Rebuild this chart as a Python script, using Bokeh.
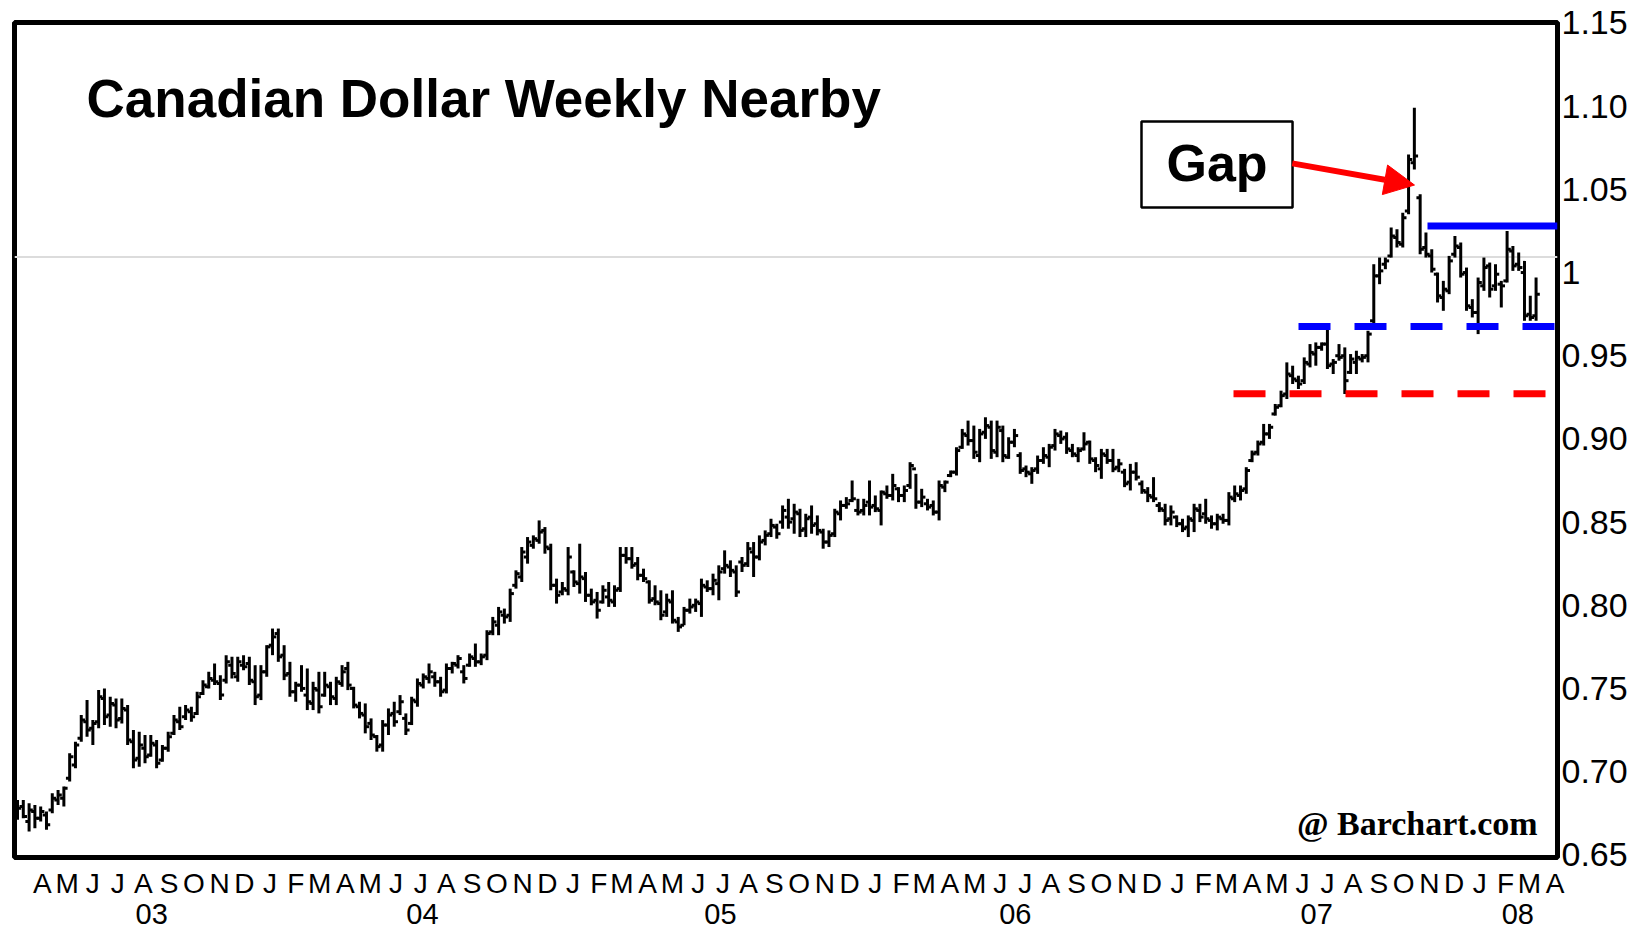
import pandas as pd
from bokeh.plotting import figure
from bokeh.models import LinearAxis, FixedTicker, Range1d, Span, Arrow, NormalHead, Label
from bokeh.embed import file_html
from bokeh.resources import INLINE

# ---------------- data (weekly OHLC, Canadian dollar nearby futures) ----------------
FIRST_WEEK = "2003-03-10"

high = [
    .683, .683, .681, .680, .679, .676, .687, .689, .691, .711,
    .718, .734, .743, .731, .749, .750, .745, .744, .744, .740,
    .725, .724, .722, .722, .719, .716, .724, .734, .739, .740,
    .739, .748, .755, .760, .765, .758, .770, .769, .769, .770,
    .769, .764, .764, .776, .786, .786, .776, .766, .754, .764,
    .762, .754, .760, .760, .754, .757, .764, .766, .751, .742,
    .741, .732, .722, .731, .738, .742, .746, .735, .745, .756,
    .759, .765, .760, .757, .765, .766, .770, .764, .771, .777,
    .771, .785, .793, .799, .798, .810, .821, .835, .841, .842,
    .851, .847, .837, .816, .814, .835, .821, .837, .820, .810,
    .808, .812, .814, .812, .835, .835, .835, .829, .822, .815,
    .812, .809, .807, .809, .793, .799, .804, .804, .816, .815,
    .819, .824, .833, .827, .824, .829, .838, .838, .842, .845,
    .852, .849, .860, .864, .861, .858, .855, .860, .854, .846,
    .845, .858, .863, .865, .875, .864, .864, .875, .866, .869,
    .872, .879, .871, .872, .886, .879, .870, .864, .863, .875,
    .875, .881, .895, .906, .911, .908, .906, .913, .911, .911,
    .908, .901, .906, .892, .884, .883, .890, .895, .897, .906,
    .905, .904, .897, .895, .904, .899, .889, .894, .894, .894,
    .888, .882, .885, .886, .875, .871, .877, .862, .861, .860,
    .854, .852, .854, .861, .861, .864, .854, .855, .855, .868,
    .872, .872, .883, .893, .899, .909, .909, .921, .929, .946,
    .944, .938, .949, .957, .958, .958, .967, .948, .957, .955,
    .951, .953, .951, .965, 1.005, 1.009, 1.009, 1.027, 1.026, 1.036,
    1.071, 1.099, 1.047, 1.024, 1.014, 1.000, .995, 1.010, 1.022, 1.018,
    1.003, .984, .997, 1.009, 1.006, 1.005, .995, 1.025, 1.016, 1.012,
    1.007, .986, .997,
]

low = [
    .671, .672, .664, .666, .670, .665, .675, .680, .679, .694,
    .702, .718, .721, .716, .726, .728, .727, .726, .729, .716,
    .702, .703, .705, .709, .702, .706, .712, .722, .725, .731,
    .730, .734, .746, .750, .752, .743, .753, .756, .754, .761,
    .752, .740, .743, .757, .770, .766, .755, .745, .742, .748,
    .737, .737, .735, .745, .740, .740, .751, .749, .738, .732,
    .723, .719, .712, .712, .722, .727, .734, .722, .728, .739,
    .750, .753, .751, .745, .747, .759, .762, .753, .763, .763,
    .764, .767, .782, .782, .789, .790, .810, .814, .825, .834,
    .837, .831, .809, .801, .806, .806, .811, .807, .802, .800,
    .792, .801, .799, .799, .808, .825, .822, .815, .814, .801,
    .800, .791, .793, .789, .784, .788, .795, .796, .793, .808,
    .806, .803, .819, .817, .805, .820, .823, .817, .827, .836,
    .841, .840, .846, .846, .843, .841, .841, .843, .842, .834,
    .835, .841, .851, .858, .862, .854, .854, .854, .856, .848,
    .864, .863, .862, .862, .870, .858, .859, .857, .854, .851,
    .868, .877, .878, .894, .896, .888, .886, .900, .888, .889,
    .886, .888, .895, .879, .877, .873, .879, .885, .883, .893,
    .897, .891, .889, .886, .893, .885, .880, .876, .885, .880,
    .880, .871, .869, .875, .867, .862, .862, .856, .848, .848,
    .847, .844, .841, .844, .850, .849, .846, .845, .849, .848,
    .862, .863, .867, .886, .890, .896, .900, .914, .919, .924,
    .933, .930, .933, .943, .944, .953, .942, .939, .947, .927,
    .939, .939, .946, .946, .969, .993, 1.002, 1.009, 1.015, 1.015,
    1.035, 1.062, 1.011, 1.009, 1.000, .982, .977, .987, 1.009, .997,
    .977, .973, .963, .989, .985, .989, .979, .994, 1.001, 1.001,
    .971, .971, .971,
]

open_ = [
    .676, .679, .670, .676, .672, .674, .677, .683, .684, .696,
    .704, .720, .730, .726, .730, .744, .734, .740, .732, .737,
    .718, .708, .714, .710, .716, .707, .714, .723, .730, .733,
    .736, .735, .747, .751, .755, .753, .755, .764, .757, .764,
    .765, .754, .746, .760, .776, .783, .770, .759, .748, .752,
    .746, .741, .749, .746, .751, .744, .753, .762, .750, .739,
    .734, .729, .721, .716, .728, .735, .736, .732, .729, .742,
    .752, .756, .757, .754, .749, .762, .764, .760, .764, .768,
    .766, .770, .784, .788, .794, .794, .812, .817, .829, .836,
    .839, .845, .834, .812, .808, .809, .820, .813, .816, .806,
    .803, .802, .805, .802, .810, .830, .828, .825, .818, .814,
    .804, .801, .796, .802, .790, .788, .797, .800, .801, .811,
    .810, .813, .822, .823, .820, .826, .825, .832, .829, .839,
    .843, .847, .850, .853, .852, .855, .846, .853, .849, .844,
    .838, .843, .855, .860, .863, .857, .857, .862, .860, .857,
    .867, .866, .870, .866, .872, .882, .862, .861, .860, .856,
    .871, .878, .880, .895, .902, .899, .890, .904, .907, .892,
    .905, .889, .898, .890, .882, .879, .882, .887, .889, .896,
    .902, .901, .893, .890, .894, .898, .887, .882, .890, .887,
    .883, .880, .874, .880, .873, .868, .865, .860, .857, .852,
    .853, .849, .847, .851, .857, .855, .851, .849, .852, .851,
    .864, .866, .870, .887, .892, .898, .903, .915, .920, .927,
    .938, .935, .935, .945, .951, .955, .957, .945, .950, .950,
    .940, .946, .948, .950, .971, .998, 1.005, 1.010, 1.021, 1.017,
    1.037, 1.066, 1.045, 1.015, 1.010, .999, .985, .989, 1.011, 1.015,
    1.000, .979, .976, .992, 1.004, .992, .993, .995, 1.013, 1.005,
    1.000, .975, .974,
]

close = [
    .678, .673, .677, .672, .676, .668, .684, .686, .690, .709,
    .716, .731, .725, .729, .745, .733, .741, .731, .738, .719,
    .707, .716, .709, .717, .705, .714, .721, .731, .727, .737,
    .733, .745, .752, .756, .754, .746, .766, .759, .766, .763,
    .755, .745, .760, .775, .781, .769, .758, .748, .752, .750,
    .742, .750, .739, .752, .745, .754, .760, .752, .740, .735,
    .727, .722, .715, .728, .734, .730, .742, .725, .743, .753,
    .757, .760, .754, .748, .762, .765, .768, .756, .769, .766,
    .769, .783, .790, .796, .793, .807, .819, .832, .838, .840,
    .844, .835, .812, .806, .810, .829, .814, .817, .806, .802,
    .797, .809, .803, .809, .830, .828, .824, .818, .816, .803,
    .802, .794, .803, .791, .787, .797, .799, .802, .812, .810,
    .815, .820, .824, .821, .808, .824, .834, .829, .838, .842,
    .848, .843, .857, .850, .856, .845, .852, .848, .845, .838,
    .842, .856, .860, .861, .864, .856, .860, .859, .858, .868,
    .866, .872, .866, .869, .884, .862, .865, .859, .856, .872,
    .874, .880, .893, .903, .899, .892, .903, .908, .893, .907,
    .890, .898, .902, .881, .880, .881, .887, .890, .895, .903,
    .900, .894, .891, .893, .897, .888, .884, .891, .887, .882,
    .885, .873, .880, .877, .869, .866, .864, .858, .851, .856,
    .849, .846, .852, .858, .853, .852, .849, .853, .851, .865,
    .867, .869, .881, .891, .897, .903, .907, .919, .926, .939,
    .936, .933, .946, .952, .955, .957, .944, .946, .949, .935,
    .948, .949, .949, .963, .998, 1.001, 1.007, 1.022, 1.018, 1.033,
    1.068, 1.070, 1.014, 1.011, 1.002, .986, .990, 1.007, 1.016, .999,
    .980, .976, .994, 1.003, .990, .999, .992, 1.014, 1.004, 1.003,
    .974, .973, .987,
]

# axis labels
y_ticks = [0.65, 0.70, 0.75, 0.80, 0.85, 0.90, 0.95, 1.00, 1.05, 1.10, 1.15]
y_labels = ["0.65", "0.70", "0.75", "0.80", "0.85", "0.90", "0.95", "1", "1.05", "1.10", "1.15"]
year_ticks = ["2003-08-19", "2004-07-11", "2005-07-06", "2006-06-27", "2007-06-26", "2008-02-24"]
year_labels = ["03", "04", "05", "06", "07", "08"]
month_starts = pd.date_range("2003-04-01", "2008-04-01", freq="MS")

# annotation levels
RESIST = 1.028          # solid blue
SUPPORT = 0.9676        # dashed blue
RED_LEVEL = 0.9272      # dashed red


def ms(t):
    return pd.Timestamp(t).value / 1e6


DAY = 86400000.0
dates = pd.date_range(FIRST_WEEK, periods=len(high), freq="7D")
xs = [ms(d) for d in dates]
TICK = 4.5 * DAY

X0, X1 = ms("2003-03-06 09:00"), ms("2008-04-11 21:00")
W, H = 1636, 932
p = figure(width=W, height=H,
           x_range=Range1d(X0, X1), y_range=Range1d(0.64838, 1.1503),
           x_axis_location=None, y_axis_location=None,
           output_backend="svg", toolbar_location=None,
           min_border_left=14, min_border_right=W - 1557, min_border_top=22,
           min_border_bottom=H - 857,
           background_fill_color="white", border_fill_color="white",
           outline_line_color="black", outline_line_width=5)
p.grid.grid_line_color = None

# faint scan line
p.add_layout(Span(location=1.0093, dimension="width", line_color="#dcdcdc",
                  line_width=2, level="underlay"))

# OHLC bars
p.segment(x0=xs, x1=xs, y0=low, y1=high, line_color="black", line_width=3)
p.segment(x0=[x - TICK for x in xs], x1=xs, y0=open_, y1=open_, line_color="black", line_width=3)
p.segment(x0=xs, x1=[x + TICK for x in xs], y0=close, y1=close, line_color="black", line_width=3)

# horizontal levels
p.segment(x0=[ms("2007-11-06 21:00")], x1=[X1], y0=[RESIST], y1=[RESIST],
          line_color="#0000ff", line_width=7)
p.segment(x0=[ms("2007-06-04 02:00")], x1=[X1], y0=[SUPPORT], y1=[SUPPORT],
          line_color="#0000ff", line_width=7, line_dash="32 24")
p.segment(x0=[ms("2007-03-17 14:00")], x1=[ms("2008-03-28 09:00")], y0=[RED_LEVEL], y1=[RED_LEVEL],
          line_color="#ff0000", line_width=7, line_dash="32 24")

# Gap box + arrow
BOX_L, BOX_R = ms("2006-11-26 11:00"), ms("2007-05-27 21:00")
p.quad(left=[BOX_L], right=[BOX_R], top=[1.0908], bottom=[1.0391],
       fill_color="white", line_color="black", line_width=2.5)
p.add_layout(Label(x=(BOX_L + BOX_R) / 2, y=1.0657, text="Gap", text_align="center",
                   text_baseline="alphabetic", text_font="Liberation Sans",
                   text_font_style="bold", text_font_size="52px", text_color="black"))
p.add_layout(Arrow(x_start=ms("2007-05-27 12:00"), y_start=1.0656,
                   x_end=ms("2007-10-22 04:00"), y_end=1.0526,
                   line_color="#ff0000", line_width=6,
                   end=NormalHead(size=30, fill_color="#ff0000", line_color="#ff0000", line_width=1)))

# title and credit
p.add_layout(Label(x=ms("2003-06-01 09:00"), y=1.1049, text="Canadian Dollar Weekly Nearby",
                   text_align="left", text_baseline="alphabetic", text_font="Liberation Sans",
                   text_font_style="bold", text_font_size="53px", text_color="black"))
p.add_layout(Label(x=ms("2008-03-18 19:00"), y=0.6690, text="@ Barchart.com",
                   text_align="right", text_baseline="alphabetic", text_font="Liberation Serif",
                   text_font_style="bold", text_font_size="34px", text_color="black"))

# axes
yax = LinearAxis(ticker=FixedTicker(ticks=y_ticks),
                 major_label_overrides={t: s for t, s in zip(y_ticks, y_labels)},
                 axis_line_color=None, major_tick_line_color=None, minor_tick_line_color=None,
                 major_tick_out=0, major_tick_in=0, major_label_standoff=4,
                 major_label_text_font="Liberation Sans", major_label_text_font_size="34px",
                 major_label_text_color="black")
p.add_layout(yax, "right")

m_ticks = [ms(d + pd.Timedelta(days=8)) for d in month_starts]
m_labels = [d.strftime("%b")[0] for d in month_starts]
max_ = LinearAxis(ticker=FixedTicker(ticks=m_ticks),
                  major_label_overrides={t: s for t, s in zip(m_ticks, m_labels)},
                  axis_line_color=None, major_tick_line_color=None, minor_tick_line_color=None,
                  major_tick_out=0, major_tick_in=0, major_label_standoff=10,
                  major_label_text_font="Liberation Sans", major_label_text_font_size="28px",
                  major_label_text_color="black")
p.add_layout(max_, "below")

y_t = [ms(d) for d in year_ticks]
yrax = LinearAxis(ticker=FixedTicker(ticks=y_t),
                  major_label_overrides={t: s for t, s in zip(y_t, year_labels)},
                  axis_line_color=None, major_tick_line_color=None, minor_tick_line_color=None,
                  major_tick_out=0, major_tick_in=0, major_label_standoff=2,
                  major_label_text_font="Liberation Sans", major_label_text_font_size="29px",
                  major_label_text_color="black")
p.add_layout(yrax, "below")

open("out.html", "w").write(file_html(p, INLINE))
